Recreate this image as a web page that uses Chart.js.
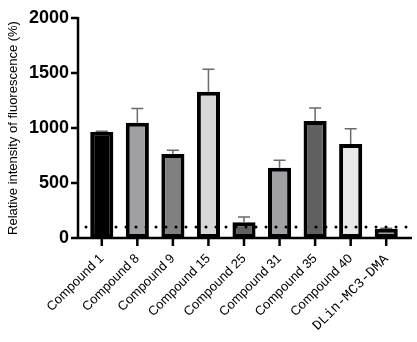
<!DOCTYPE html>
<html lang="en">
<head>
    <meta charset="UTF-8">
    <title>Relative intensity of fluorescence</title>
    <script src="https://cdn.jsdelivr.net/npm/chart.js"></script>
    <style>
        * { margin: 0; padding: 0; box-sizing: border-box; }
        body { background: #fff; }
        .chart-container { position: relative; width: 417px; height: 342px; }
    </style>
</head>
<body>
    <div class="chart-container">
        <canvas id="fluorChart"></canvas>
    </div>

    <script>
        // Data
        const compounds = ['Compound 1', 'Compound 8', 'Compound 9', 'Compound 15', 'Compound 25',
                           'Compound 31', 'Compound 35', 'Compound 40', 'DLin-MC3-DMA'];
        const means = [965, 1048, 764, 1330, 143, 639, 1064, 855, 85];
        const errors = [5, 130, 33, 205, 48, 67, 118, 139, 4];
        const fills = ['#000000', '#a0a0a4', '#808080', '#d8d8d8', '#606060',
                       '#a0a0a4', '#606060', '#e8e8e8', '#a0a0a4'];
        const yTicks = [0, 500, 1000, 1500, 2000];
        const baseline = 100;

        // axis lines, tick marks, dotted baseline and error bars
        const extrasPlugin = {
            id: 'extras',
            afterDatasetsDraw(chart) {
                const ctx = chart.ctx;
                const area = chart.chartArea;
                const y = chart.scales.y;
                const meta = chart.getDatasetMeta(0);
                const axisX = area.left - 6;
                const axisR = area.right + 8;

                // error bars (upper only)
                ctx.save();
                ctx.strokeStyle = '#6a6a6a';
                ctx.lineWidth = 1.5;
                meta.data.forEach((bar, i) => {
                    const top = y.getPixelForValue(means[i]);
                    const end = y.getPixelForValue(means[i] + errors[i]);
                    ctx.beginPath();
                    ctx.moveTo(bar.x, top);
                    ctx.lineTo(bar.x, end);
                    ctx.moveTo(bar.x - 6, end);
                    ctx.lineTo(bar.x + 6, end);
                    ctx.stroke();
                });
                ctx.restore();

                // dotted reference line
                ctx.save();
                const by = y.getPixelForValue(baseline);
                ctx.strokeStyle = '#000';
                ctx.lineWidth = 3;
                ctx.lineCap = 'round';
                ctx.setLineDash([0, 10]);
                ctx.beginPath();
                ctx.moveTo(axisX + 8, by);
                ctx.lineTo(axisR, by);
                ctx.stroke();
                ctx.restore();

                // axes
                ctx.save();
                ctx.strokeStyle = '#000';
                ctx.lineWidth = 2.5;
                ctx.beginPath();
                ctx.moveTo(axisX, area.top - 1);
                ctx.lineTo(axisX, area.bottom);
                ctx.lineTo(axisR, area.bottom);
                yTicks.forEach(v => {
                    const p = y.getPixelForValue(v);
                    ctx.moveTo(axisX - 7, p);
                    ctx.lineTo(axisX, p);
                });
                meta.data.forEach(bar => {
                    ctx.moveTo(bar.x, area.bottom);
                    ctx.lineTo(bar.x, area.bottom + 8);
                });
                ctx.stroke();
                ctx.restore();
            }
        };

        new Chart(document.getElementById('fluorChart'), {
            type: 'bar',
            data: {
                labels: compounds,
                datasets: [{
                    data: means,
                    backgroundColor: fills,
                    borderColor: '#000',
                    borderWidth: 4,
                    borderSkipped: false,
                    barPercentage: 0.65,
                    categoryPercentage: 1
                }]
            },
            options: {
                responsive: true,
                maintainAspectRatio: false,
                animation: false,
                events: [],
                layout: { padding: { top: 18, right: 13, left: 0, bottom: 0 } },
                plugins: {
                    legend: { display: false },
                    tooltip: { enabled: false }
                },
                scales: {
                    y: {
                        min: 0,
                        max: 2000,
                        afterFit: s => { s.width = 84; s.paddingTop = 0; s.paddingBottom = 0; },
                        afterBuildTicks: s => { s.ticks = yTicks.map(v => ({ value: v })); },
                        grid: { display: false, drawTicks: false },
                        border: { display: false },
                        ticks: {
                            padding: 15,
                            color: '#000',
                            callback: v => String(v),
                            font: { family: 'Liberation Sans, Arial, sans-serif', size: 18, weight: 'bold' }
                        },
                        title: {
                            display: true,
                            text: 'Relative intensity of fluorescence (%)',
                            color: '#000',
                            padding: { top: 6, bottom: 0 },
                            font: { family: 'Liberation Sans, Arial, sans-serif', size: 13 }
                        }
                    },
                    x: {
                        afterFit: s => { s.height = 104; },
                        grid: { display: false, drawTicks: false },
                        border: { display: false },
                        ticks: {
                            padding: 13,
                            minRotation: 45,
                            maxRotation: 45,
                            autoSkip: false,
                            color: '#000',
                            font: ctx => ctx.index === compounds.length - 1
                                ? { family: 'Liberation Mono, monospace', size: 14 }
                                : { family: 'Liberation Sans, Arial, sans-serif', size: 13 }
                        }
                    }
                }
            },
            plugins: [extrasPlugin]
        });
    </script>
</body>
</html>
